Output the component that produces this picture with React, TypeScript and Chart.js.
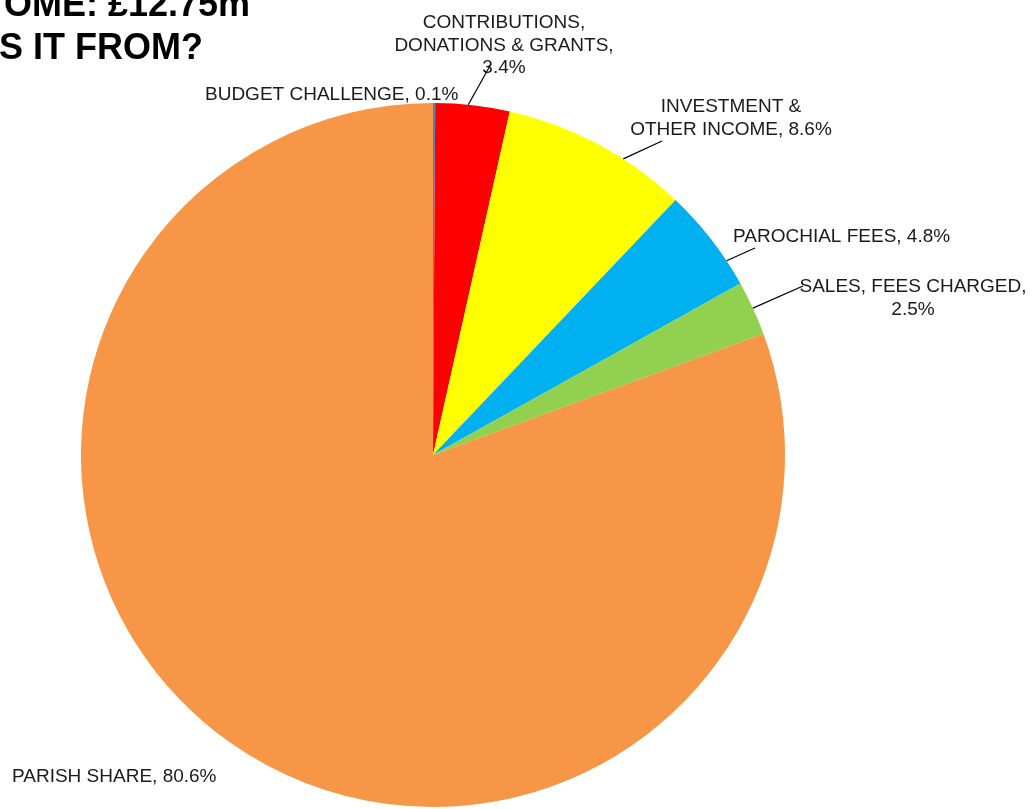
import React, { useEffect, useRef } from "react";
import { Chart, registerables } from "chart.js";

Chart.register(...registerables);

const categories = [
  "BUDGET CHALLENGE",
  "CONTRIBUTIONS, DONATIONS & GRANTS",
  "INVESTMENT & OTHER INCOME",
  "PAROCHIAL FEES",
  "SALES, FEES CHARGED",
  "PARISH SHARE",
];
const values = [0.1, 3.4, 8.6, 4.8, 2.5, 80.6];
const colors = ["#4F81BD", "#FF0000", "#FFFF00", "#00B0F0", "#92D050", "#F79646"];
const titleLines = ["OME: £12.75m", "S IT FROM?"];

// label layout: text lines, anchor x, first baseline, alignment, leader line
const labelLayout = [
  { lines: ["BUDGET CHALLENGE, 0.1%"], x: 205, y: 100, align: "left", leader: null },
  { lines: ["CONTRIBUTIONS,", "DONATIONS & GRANTS,", "3.4%"], x: 504, y: 28, align: "center", leader: { frac: 0.44, end: [491, 64] } },
  { lines: ["INVESTMENT &", "OTHER INCOME, 8.6%"], x: 731, y: 112, align: "center", leader: { frac: 0.65, end: [662, 141] } },
  { lines: ["PAROCHIAL FEES, 4.8%"], x: 733, y: 242, align: "left", leader: { frac: 0.75, end: [755, 248] } },
  { lines: ["SALES, FEES CHARGED,", "2.5%"], x: 913, y: 292, align: "center", leader: { frac: 0.5, end: [803, 286] } },
  { lines: ["PARISH SHARE, 80.6%"], x: 12, y: 782, align: "left", leader: null },
];

const FONT = '"Liberation Sans", Arial, sans-serif';

const labelPlugin = {
  id: "pieLabels",
  afterDraw(chart: any) {
    const ctx = chart.ctx;
    const meta = chart.getDatasetMeta(0);
    ctx.save();
    // title
    ctx.fillStyle = "#000";
    ctx.font = `bold 36px ${FONT}`;
    ctx.textAlign = "right";
    ctx.textBaseline = "alphabetic";
    ctx.fillText(titleLines[0], 250, 16);
    ctx.fillText(titleLines[1], 203, 59);

    ctx.font = `19px ${FONT}`;
    labelLayout.forEach((lab, i) => {
      const arc = meta.data[i];
      if (lab.leader && arc) {
        const a = arc.startAngle + lab.leader.frac * (arc.endAngle - arc.startAngle);
        const sx = arc.x + Math.cos(a) * arc.outerRadius;
        const sy = arc.y + Math.sin(a) * arc.outerRadius;
        ctx.beginPath();
        ctx.strokeStyle = "#000";
        ctx.lineWidth = 1.2;
        ctx.moveTo(sx, sy);
        ctx.lineTo(lab.leader.end[0], lab.leader.end[1]);
        ctx.stroke();
      }
      ctx.fillStyle = "#1a1a1a";
      ctx.textAlign = lab.align as CanvasTextAlign;
      lab.lines.forEach((t, j) => {
        ctx.fillText(t, lab.x, lab.y + j * 22.5);
      });
    });
    ctx.restore();
  },
};

export default function App() {
  const ref = useRef<HTMLCanvasElement>(null);
  useEffect(() => {
    document.body.style.margin = "0";
    document.body.style.overflow = "hidden";
    const chart = new Chart(ref.current!, {
      type: "pie",
      data: {
        labels: categories,
        datasets: [
          {
            data: values,
            backgroundColor: colors,
            borderWidth: 0,
          },
        ],
      },
      options: {
        animation: false,
        responsive: true,
        maintainAspectRatio: false,
        layout: { padding: { top: 103, bottom: 2, left: 81, right: 248 } },
        plugins: {
          legend: { display: false },
          tooltip: { enabled: false },
        },
      },
      plugins: [labelPlugin],
    });
    return () => chart.destroy();
  }, []);
  return (
    <div style={{ width: 1033, height: 809, position: "relative", background: "#fff" }}>
      <canvas ref={ref} />
    </div>
  );
}
